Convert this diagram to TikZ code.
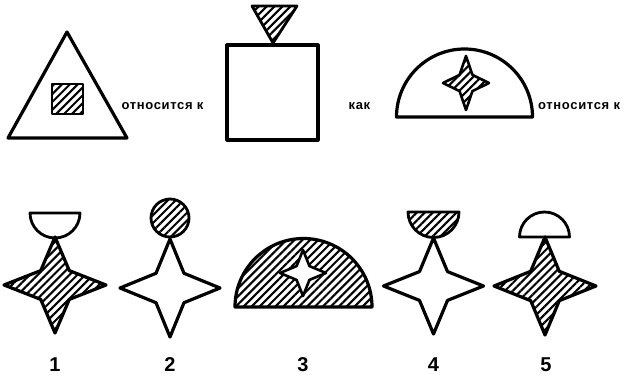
\documentclass[tikz,border=0pt]{standalone}
\usepackage{fontspec}
\setmainfont{Liberation Sans}
\usetikzlibrary{patterns.meta}
\tikzset{
  outl/.style={draw=black,line width=3.2pt,line join=round},
  hatch/.style={pattern={Lines[angle=45,distance=5.6pt,line width=2.1pt]},pattern color=black},
  lbl/.style={font=\bfseries\fontsize{13}{15}\selectfont\addfontfeatures{LetterSpace=5},inner sep=0pt},
  num/.style={font=\bfseries\fontsize{20}{22}\selectfont,inner sep=0pt},
}
\newcommand\quadstar[4]{% cx, cy, hw, hh
  (#1+#3,#2) -- (#1+0.28*#3,#2+0.3*#4) -- (#1,#2+#4) -- (#1-0.28*#3,#2+0.3*#4)
  -- (#1-#3,#2) -- (#1-0.28*#3,#2-0.3*#4) -- (#1,#2-#4) -- (#1+0.28*#3,#2-0.3*#4) -- cycle}
\begin{document}
\begin{tikzpicture}[x=1pt,y=1pt]
\useasboundingbox (0,0) rectangle (627,376);
% --- top row ---
% triangle with hatched square
\draw[outl] (8,238) -- (127,238) -- (67,344) -- cycle;
\draw[outl,hatch,line width=2.6pt] (52,262) rectangle (83,292);
\node[lbl] (t1) at (162.5,270) {относится к};
% square with inverted triangle
\draw[outl] (227,236) rectangle (318,331);
\draw[outl,hatch,line width=2.8pt] (252,370) -- (297,370) -- (273,333) -- cycle;
\node[lbl] (t2) at (359.5,270) {как};
% semicircle with hatched star
\draw[outl] (396.5,259) arc[start angle=180,end angle=0,radius=68pt] -- cycle;
\draw[outl,hatch,line width=2.6pt] \quadstar{466}{293}{23}{27};
\node[lbl,anchor=west] (t3) at (538,270) {относится к};
% --- bottom row ---
% 1
\draw[outl,line width=2.8pt] (30,163) arc[start angle=180,end angle=360,radius=25pt] -- cycle;
\draw[outl,hatch] \quadstar{55}{91}{51}{48};
\node[num] (n1) at (55,11) {1};
% 2
\draw[outl,hatch,line width=2.8pt] (170,158) circle[radius=19pt];
\draw[outl,fill=white] \quadstar{170}{88}{50}{49};
\node[num] (n2) at (170,11) {2};
% 3
\draw[outl,hatch] (235,69) arc[start angle=180,end angle=0,radius=68.5pt] -- cycle;
\draw[outl,fill=white,line width=2.6pt] \quadstar{303}{103}{23}{23};
\node[num] (n3) at (303,11) {3};
% 4
\draw[outl,hatch,line width=2.8pt] (408,164) arc[start angle=180,end angle=360,radius=25.5pt] -- cycle;
\draw[outl,fill=white] \quadstar{433.5}{90}{50}{48};
\node[num] (n4) at (433.5,11) {4};
% 5
\draw[outl,line width=2.8pt] (519.5,139) arc[start angle=180,end angle=0,radius=25pt] -- cycle;
\draw[outl,hatch] \quadstar{545}{90}{51}{49};
\node[num] (n5) at (546,11) {5};
\end{tikzpicture}
\end{document}
